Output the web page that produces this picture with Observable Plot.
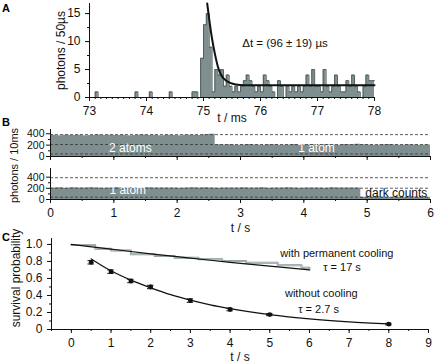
<!DOCTYPE html>
<html><head><meta charset="utf-8">
<script src="https://cdn.jsdelivr.net/npm/d3@7"></script>
<script src="https://cdn.jsdelivr.net/npm/@observablehq/plot@0.6"></script>
<style>
body{margin:0;background:#fff;}
#c{position:relative;width:436px;height:364px;font-family:"Liberation Sans",Arial,sans-serif;overflow:hidden;}
#c svg{position:absolute;left:0;}
.pl{position:absolute;font-weight:bold;font-size:11px;line-height:11px;}
</style></head><body><div id="c">
<div class="pl" style="left:2px;top:3px">A</div>
<div class="pl" style="left:2px;top:117px">B</div>
<div class="pl" style="left:2px;top:232px">C</div>
</div>
<script>
// ---------- Panel A: photon arrival histogram (50 µs bins from 73 ms) ----------
const histStart = 73, histBin = 0.05;
const histCounts = [
  0,0,1,0,0,0,0,0,0,0, 0,0,0,0,0,0,1,0,0,0,
  0,1,0,0,0,0,0,0,1,0, 0,0,0,0,0,0,1,1,0,7,
  13,15,9,1,5,4,5,2,4,2, 1,2,1,2,3,4,3,2,1,2,
  1,4,3,2,1,0,3,2,0,2, 1,2,1,2,1,2,4,2,5,2,
  2,1,5,2,1,2,4,2,1,1, 3,2,4,2,1,0,2,4,3,3
];
const fitATime = [75.065, 75.1, 75.15, 75.2, 75.25, 75.3, 75.4, 75.5, 75.6, 75.8, 78];
const fitACount = [16.8, 14.0, 10.5, 7.8, 5.6, 4.2, 3.0, 2.5, 2.3, 2.2, 2.2];
const ticksA = [73, 74, 75, 76, 77, 78];
const yTicksA = [0, 5, 10, 15];

// ---------- Panel B: fluorescence traces (sampled every 0.1 s) ----------
const traceTop = [
  372,366,375,369,373,364,371,377,368,372,
  370,375,366,371,378,369,373,367,374,370,
  366,372,376,369,384,393,206,201,208,199,
  204,210,202,197,205,208,200,203,209,198,
  204,206,201,207,203,199,211,205,214,207,
  203,198,205,209,202,200,206,203,199,201
];
const traceBottom = [
  206,209,203,211,207,204,212,208,202,206,
  210,205,209,203,207,211,206,204,208,205,
  203,207,210,204,209,206,202,208,205,207,
  211,204,206,209,203,207,205,210,206,202,
  208,205,207,203,209,206,204,208,205,42,
  38,44,40,37,43,41,39,44,40,41
];
const levelsTop = [385, 210, 45];
const levelsBottom = [390, 202, 41];
const ticksB = [0, 1, 2, 3, 4, 5, 6];
const yTicksB = [0, 200, 400];

// ---------- Panel C: survival probability ----------
const tNoCool = [0.5, 1, 1.5, 2, 3, 4, 5, 8];
const pNoCool = [0.79, 0.68, 0.57, 0.50, 0.34, 0.235, 0.175, 0.063];
const eNoCool = [0.02, 0.02, 0.02, 0.02, 0.02, 0.015, 0.012, 0.01];
const fitNoT = [0.5, 1, 1.5, 2, 2.5, 3, 3.5, 4, 5, 6, 7, 8];
const fitNoP = [0.83, 0.69, 0.58, 0.49, 0.41, 0.345, 0.29, 0.245, 0.175, 0.125, 0.09, 0.065];
const fitCoolT = [0, 1, 2, 3, 4, 5, 6];
const fitCoolP = [1.0, 0.945, 0.89, 0.84, 0.79, 0.745, 0.70];
const stairT = [0, 0.6, 1.0, 1.5, 2.1, 2.6, 3.2, 3.8, 4.4, 5.2, 5.8, 6.0];
const stairP = [0.995, 0.95, 0.93, 0.885, 0.865, 0.845, 0.825, 0.805, 0.785, 0.755, 0.725, 0.705];
const ticksC = [0, 1, 2, 3, 4, 5, 6, 7, 8, 9];
const yTicksC = [0, 0.2, 0.4, 0.6, 0.8, 1.0];

// ---------- helpers ----------
const FILL = "#7f8f8f", EDGE = "#4f5e5d";
const FONT = '"Liberation Sans", Arial, sans-serif';
const box = document.getElementById("c");
function place(svg, top) { svg.style.top = top + "px"; box.append(svg); }
const baseStyle = {fontFamily: FONT, fontSize: "12px", background: "transparent", overflow: "visible", color: "#111"};
const blank = () => "";
const lbl = {text: d => d, textAnchor: "middle", lineAnchor: "middle", fontSize: 12};

// Panel A
const histRows = histCounts.map((c, i) => ({t: histStart + i * histBin, c}));
histRows.push({t: histStart + histCounts.length * histBin, c: histCounts[histCounts.length - 1]});
const fitARows = fitATime.map((t, i) => ({t, v: fitACount[i]}));
const minorA = d3.range(73, 78.001, 0.1).map(v => +v.toFixed(2));
const plotA = Plot.plot({
  width: 436, height: 126,
  marginLeft: 89, marginRight: 62, marginTop: 3, marginBottom: 29,
  x: {domain: [73, 78], axis: null},
  y: {domain: [0, 16.8], axis: null},
  style: baseStyle,
  marks: [
    Plot.areaY(histRows, {x: "t", y: "c", curve: "step-after", fill: FILL}),
    Plot.lineY(histRows, {x: "t", y: "c", curve: "step-after", stroke: EDGE, strokeWidth: 1}),
    Plot.line(fitARows, {x: "t", y: "v", curve: "monotone-x", stroke: "#111", strokeWidth: 2}),
    Plot.ruleX([73], {stroke: "#111"}),
    Plot.ruleY([0], {stroke: "#111"}),
    Plot.axisX(minorA, {tickSize: 2, tickFormat: blank, label: null}),
    Plot.axisX(ticksA, {tickSize: 4, fontSize: 12, label: null}),
    Plot.axisY(d3.range(0, 16.1, 2.5), {tickSize: 2, tickFormat: blank, label: null}),
    Plot.axisY(yTicksA, {tickSize: 4, fontSize: 12, label: null}),
    Plot.text(["t / ms"], {...lbl, frameAnchor: "bottom", dy: 21}),
    Plot.text(["photons / 50µs"], {...lbl, frameAnchor: "left", rotate: -90, dx: -28}),
    Plot.text(["Δt = (96 ± 19) µs"], {text: d => d, x: 75.68, y: 9.6, textAnchor: "start", fontSize: 11.5})
  ]
});
place(plotA, 0);

// Panel B
const traceTimes = d3.range(0, 60).map(i => i / 10);
function traceRows(vals) {
  const rows = vals.map((v, i) => ({t: traceTimes[i], v}));
  rows.push({t: 6, v: vals[vals.length - 1]});
  return rows;
}
const minorB = d3.range(0, 6.01, 0.5);
function stripMarks(vals, levels, withLabels) {
  return [
    Plot.areaY(traceRows(vals), {x: "t", y: "v", curve: "step-after", fill: FILL}),
    Plot.ruleY(levels, {stroke: "#333", strokeWidth: 0.8, strokeDasharray: "3,2"}),
    Plot.ruleX([0], {stroke: "#111"}),
    Plot.ruleY([0], {stroke: "#111"}),
    Plot.axisY([100, 300], {tickSize: 2, tickFormat: blank, label: null}),
    Plot.axisY(yTicksB, {tickSize: 4, tickPadding: 2, fontSize: 10.5, label: null}),
    Plot.axisX(minorB, {tickSize: 2, tickFormat: blank, label: null}),
    Plot.axisX(ticksB, {tickSize: 4, fontSize: 12, label: null, tickFormat: withLabels ? d => String(d) : blank})
  ];
}
const plotB1 = Plot.plot({
  width: 436, height: 40,
  marginLeft: 50, marginRight: 6, marginTop: 9, marginBottom: 4,
  x: {domain: [0, 6], axis: null},
  y: {domain: [0, 475], axis: null},
  style: baseStyle,
  marks: [
    ...stripMarks(traceTop, levelsTop, false),
    Plot.text(["2 atoms"], {text: d => d, x: 1.26, y: 141, fill: "white", fontSize: 12}),
    Plot.text(["1 atom"], {text: d => d, x: 4.2, y: 141, fill: "white", fontSize: 12})
  ]
});
place(plotB1, 120);

const plotB2 = Plot.plot({
  width: 436, height: 72,
  marginLeft: 50, marginRight: 6, marginTop: 8, marginBottom: 33,
  x: {domain: [0, 6], axis: null},
  y: {domain: [0, 555], axis: null},
  style: baseStyle,
  marks: [
    ...stripMarks(traceBottom, levelsBottom, true),
    Plot.text(["1 atom"], {text: d => d, x: 1.22, y: 161, fill: "white", fontSize: 12}),
    Plot.text(["dark counts"], {text: d => d, x: 5.46, y: 110, fill: "#111", fontSize: 12}),
    Plot.text(["t / s"], {...lbl, frameAnchor: "bottom", dy: 28.5}),
    Plot.text(["photons / 10ms"], {...lbl, fontSize: 11, frameAnchor: "left", rotate: -90, dx: -36, dy: -18.5})
  ]
});
place(plotB2, 160);

// Panel C
const noRows = tNoCool.map((t, i) => ({t, p: pNoCool[i], lo: pNoCool[i] - eNoCool[i], hi: pNoCool[i] + eNoCool[i]}));
const fitNoRows = fitNoT.map((t, i) => ({t, p: fitNoP[i]}));
const fitCoolRows = fitCoolT.map((t, i) => ({t, p: fitCoolP[i]}));
const stairRows = stairT.map((t, i) => ({t, p: stairP[i]}));
const capW = 0.08;
const plotC = Plot.plot({
  width: 436, height: 132,
  marginLeft: 51, marginRight: 8, marginTop: 6, marginBottom: 35,
  x: {domain: [-0.5, 9], axis: null},
  y: {domain: [0, 1.07], axis: null},
  style: baseStyle,
  marks: [
    Plot.line(stairRows, {x: "t", y: "p", curve: "step-after", stroke: "#7f8f8f", strokeWidth: 2}),
    Plot.line(stairRows, {x: "t", y: "p", curve: "step-after", stroke: "#e6ebeb", strokeWidth: 0.6}),
    Plot.line(fitCoolRows, {x: "t", y: "p", curve: "monotone-x", stroke: "#111", strokeWidth: 1.2}),
    Plot.line(fitNoRows, {x: "t", y: "p", curve: "monotone-x", stroke: "#111", strokeWidth: 1.2}),
    Plot.ruleX(noRows, {x: "t", y1: "lo", y2: "hi", stroke: "#111", strokeWidth: 1}),
    Plot.ruleY(noRows, {y: "lo", x1: d => d.t - capW, x2: d => d.t + capW, stroke: "#111", strokeWidth: 1}),
    Plot.ruleY(noRows, {y: "hi", x1: d => d.t - capW, x2: d => d.t + capW, stroke: "#111", strokeWidth: 1}),
    Plot.dot(noRows, {x: "t", y: "p", r: 2.4, fill: "#111"}),
    Plot.ruleX([-0.5], {stroke: "#111"}),
    Plot.ruleY([0], {stroke: "#111"}),
    Plot.axisX(d3.range(-0.5, 9.01, 0.5), {tickSize: 2, tickFormat: blank, label: null}),
    Plot.axisX(ticksC, {tickSize: 4, fontSize: 12, label: null}),
    Plot.axisY(d3.range(0, 1.01, 0.1), {tickSize: 2, tickFormat: blank, label: null}),
    Plot.axisY(yTicksC, {tickSize: 4, fontSize: 12, label: null, tickFormat: d => d === 0 ? "0" : d.toFixed(1)}),
    Plot.text(["t / s"], {...lbl, frameAnchor: "bottom", dy: 28}),
    Plot.text(["survival probability"], {...lbl, frameAnchor: "left", rotate: -90, dx: -35, dy: -6}),
    Plot.text(["with permanent cooling"], {text: d => d, x: 6.69, y: 0.89, fontSize: 11}),
    Plot.text(["τ = 17 s"], {text: d => d, x: 6.82, y: 0.73, fontSize: 11}),
    Plot.text(["without cooling"], {text: d => d, x: 6.3, y: 0.42, fontSize: 11}),
    Plot.text(["τ = 2.7 s"], {text: d => d, x: 6.23, y: 0.23, fontSize: 11})
  ]
});
place(plotC, 232);
</script></body></html>
